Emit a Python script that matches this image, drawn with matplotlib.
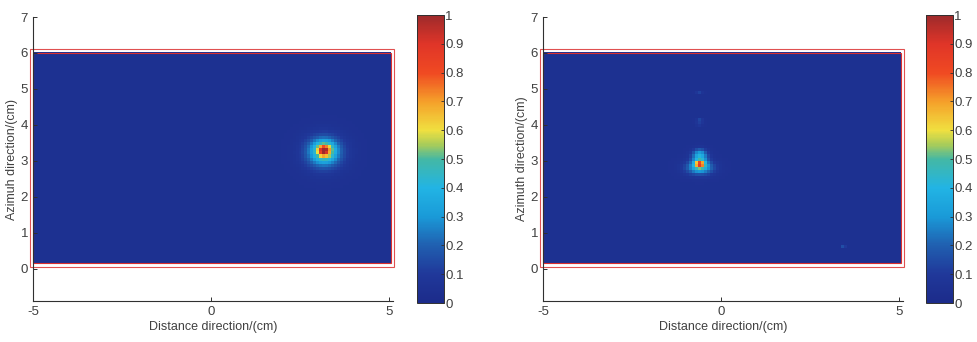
import numpy as np
import matplotlib
matplotlib.use("Agg")
import matplotlib.pyplot as plt
from matplotlib.colors import LinearSegmentedColormap
from matplotlib.patches import Rectangle

plt.rcParams['font.family'] = ['Liberation Sans', 'DejaVu Sans']
plt.rcParams['axes.unicode_minus'] = False

# ---------------- data ----------------
x_ticks = [-5, 0, 5]
y_ticks = [0, 1, 2, 3, 4, 5, 6, 7]
cbar_ticks = [0, 0.1, 0.2, 0.3, 0.4, 0.5, 0.6, 0.7, 0.8, 0.9, 1]
cbar_labels = ["0", "0.1", "0.2", "0.3", "0.4", "0.5", "0.6", "0.7", "0.8", "0.9", "1"]
x_label = "Distance direction/(cm)"
y_labels = ["Azimuh direction/(cm)", "Azimuth direction/(cm)"]

image_x = [-5.0, 5.05]     # imaged scene extent (cm)
image_y = [0.15, 6.0]
background = 0.05

# target responses: centre x, centre y, spread x, spread y, peak
left_cx = [3.20, 3.22, 3.20]
left_cy = [3.22, 3.27, 3.26]
left_sx = [0.36, 0.20, 0.09]
left_sy = [0.30, 0.17, 0.08]
left_amp = [0.34, 0.36, 0.40]

right_cx = [-0.60, -0.60, -0.60, -0.60, -0.60, -0.60, -0.60, -0.60, -0.62, -0.62, 3.48]
right_cy = [2.80, 3.02, 2.90, 3.32, 3.23, 3.15, 4.02, 4.12, 4.90, 4.00, 0.58]
right_sx = [0.26, 0.15, 0.09, 0.12, 0.13, 0.14, 0.07, 0.06, 0.06, 0.05, 0.03]
right_sy = [0.13, 0.13, 0.07, 0.022, 0.022, 0.022, 0.025, 0.025, 0.025, 0.025, 0.025]
right_amp = [0.33, 0.30, 0.45, 0.28, 0.30, 0.33, 0.12, 0.10, 0.08, 0.08, 0.22]

# colormap sampled from the colour bar
cmap_pos = [0.0, 0.1, 0.2, 0.3, 0.4, 0.5, 0.55, 0.6, 0.7, 0.8, 0.9, 1.0]
cmap_col = ["#1c2b8a", "#20389a", "#2060b0", "#1a9ad8", "#22b4e4", "#44b8a4",
            "#a8cc5a", "#f0e040", "#f5a02a", "#f04a22", "#e03528", "#9e2a2b"]
cmap = LinearSegmentedColormap.from_list("ref", list(zip(cmap_pos, cmap_col)))


def field(cx, cy, sx, sy, amp, nx=120, ny=70):
    xs = np.linspace(image_x[0], image_x[1], nx)
    ys = np.linspace(image_y[0], image_y[1], ny)
    X, Y = np.meshgrid(xs, ys)
    Z = np.full_like(X, background)
    for a, b, c, d, e in zip(cx, cy, sx, sy, amp):
        Z += e * np.exp(-0.5 * (((X - a) / c) ** 2 + ((Y - b) / d) ** 2))
    return np.clip(Z, 0, 1)


fig = plt.figure(figsize=(9.78, 3.42), dpi=100)
txt = "#404040"

axes_pos = [[33 / 978, 41 / 342, 0.3677, 284 / 342],
            [543 / 978, 41 / 342, 0.3677, 284 / 342]]
cbar_pos = [[417 / 978, 39 / 342, 27 / 978, 288 / 342],
            [926 / 978, 39 / 342, 27 / 978, 288 / 342]]
fields = [field(left_cx, left_cy, left_sx, left_sy, left_amp),
          field(right_cx, right_cy, right_sx, right_sy, right_amp)]

for i in range(2):
    ax = fig.add_axes(axes_pos[i])
    im = ax.imshow(fields[i], extent=[image_x[0], image_x[1], image_y[0], image_y[1]],
                   origin='lower', cmap=cmap, vmin=0, vmax=1, aspect='auto',
                   interpolation='nearest')
    ax.set_xlim(-5, 5.1)
    ax.set_ylim(-0.9, 7)
    ax.set_xticks(x_ticks)
    ax.set_yticks(y_ticks)
    for s in ['top', 'right']:
        ax.spines[s].set_visible(False)
    for s in ['left', 'bottom']:
        ax.spines[s].set_color('#303030')
        ax.spines[s].set_linewidth(0.8)
    ax.tick_params(direction='in', length=3, width=0.7, colors='#303030',
                   labelcolor=txt, labelsize=9.5)
    ax.set_xlabel(x_label, fontsize=9, color=txt, labelpad=2)
    ax.set_ylabel(y_labels[i], fontsize=9, color=txt, labelpad=2)
    # double red frame
    ax.add_patch(Rectangle((image_x[0], image_y[0]), image_x[1] - image_x[0],
                           image_y[1] - image_y[0], fill=False, ec='#d83030',
                           lw=0.8, clip_on=False))
    ax.add_patch(Rectangle((image_x[0] - 0.09, image_y[0] - 0.1),
                           image_x[1] - image_x[0] + 0.18,
                           image_y[1] - image_y[0] + 0.2, fill=False,
                           ec='#e05050', lw=0.8, clip_on=False))

    cax = fig.add_axes(cbar_pos[i])
    cb = fig.colorbar(im, cax=cax, ticks=cbar_ticks)
    cb.ax.set_yticklabels(cbar_labels)
    cb.outline.set_linewidth(0.7)
    cb.outline.set_edgecolor('#303030')
    cb.ax.tick_params(direction='in', length=2, width=0.6, colors='#303030',
                      labelcolor=txt, labelsize=9.5, pad=1)

fig.savefig("out.png", dpi=100)
